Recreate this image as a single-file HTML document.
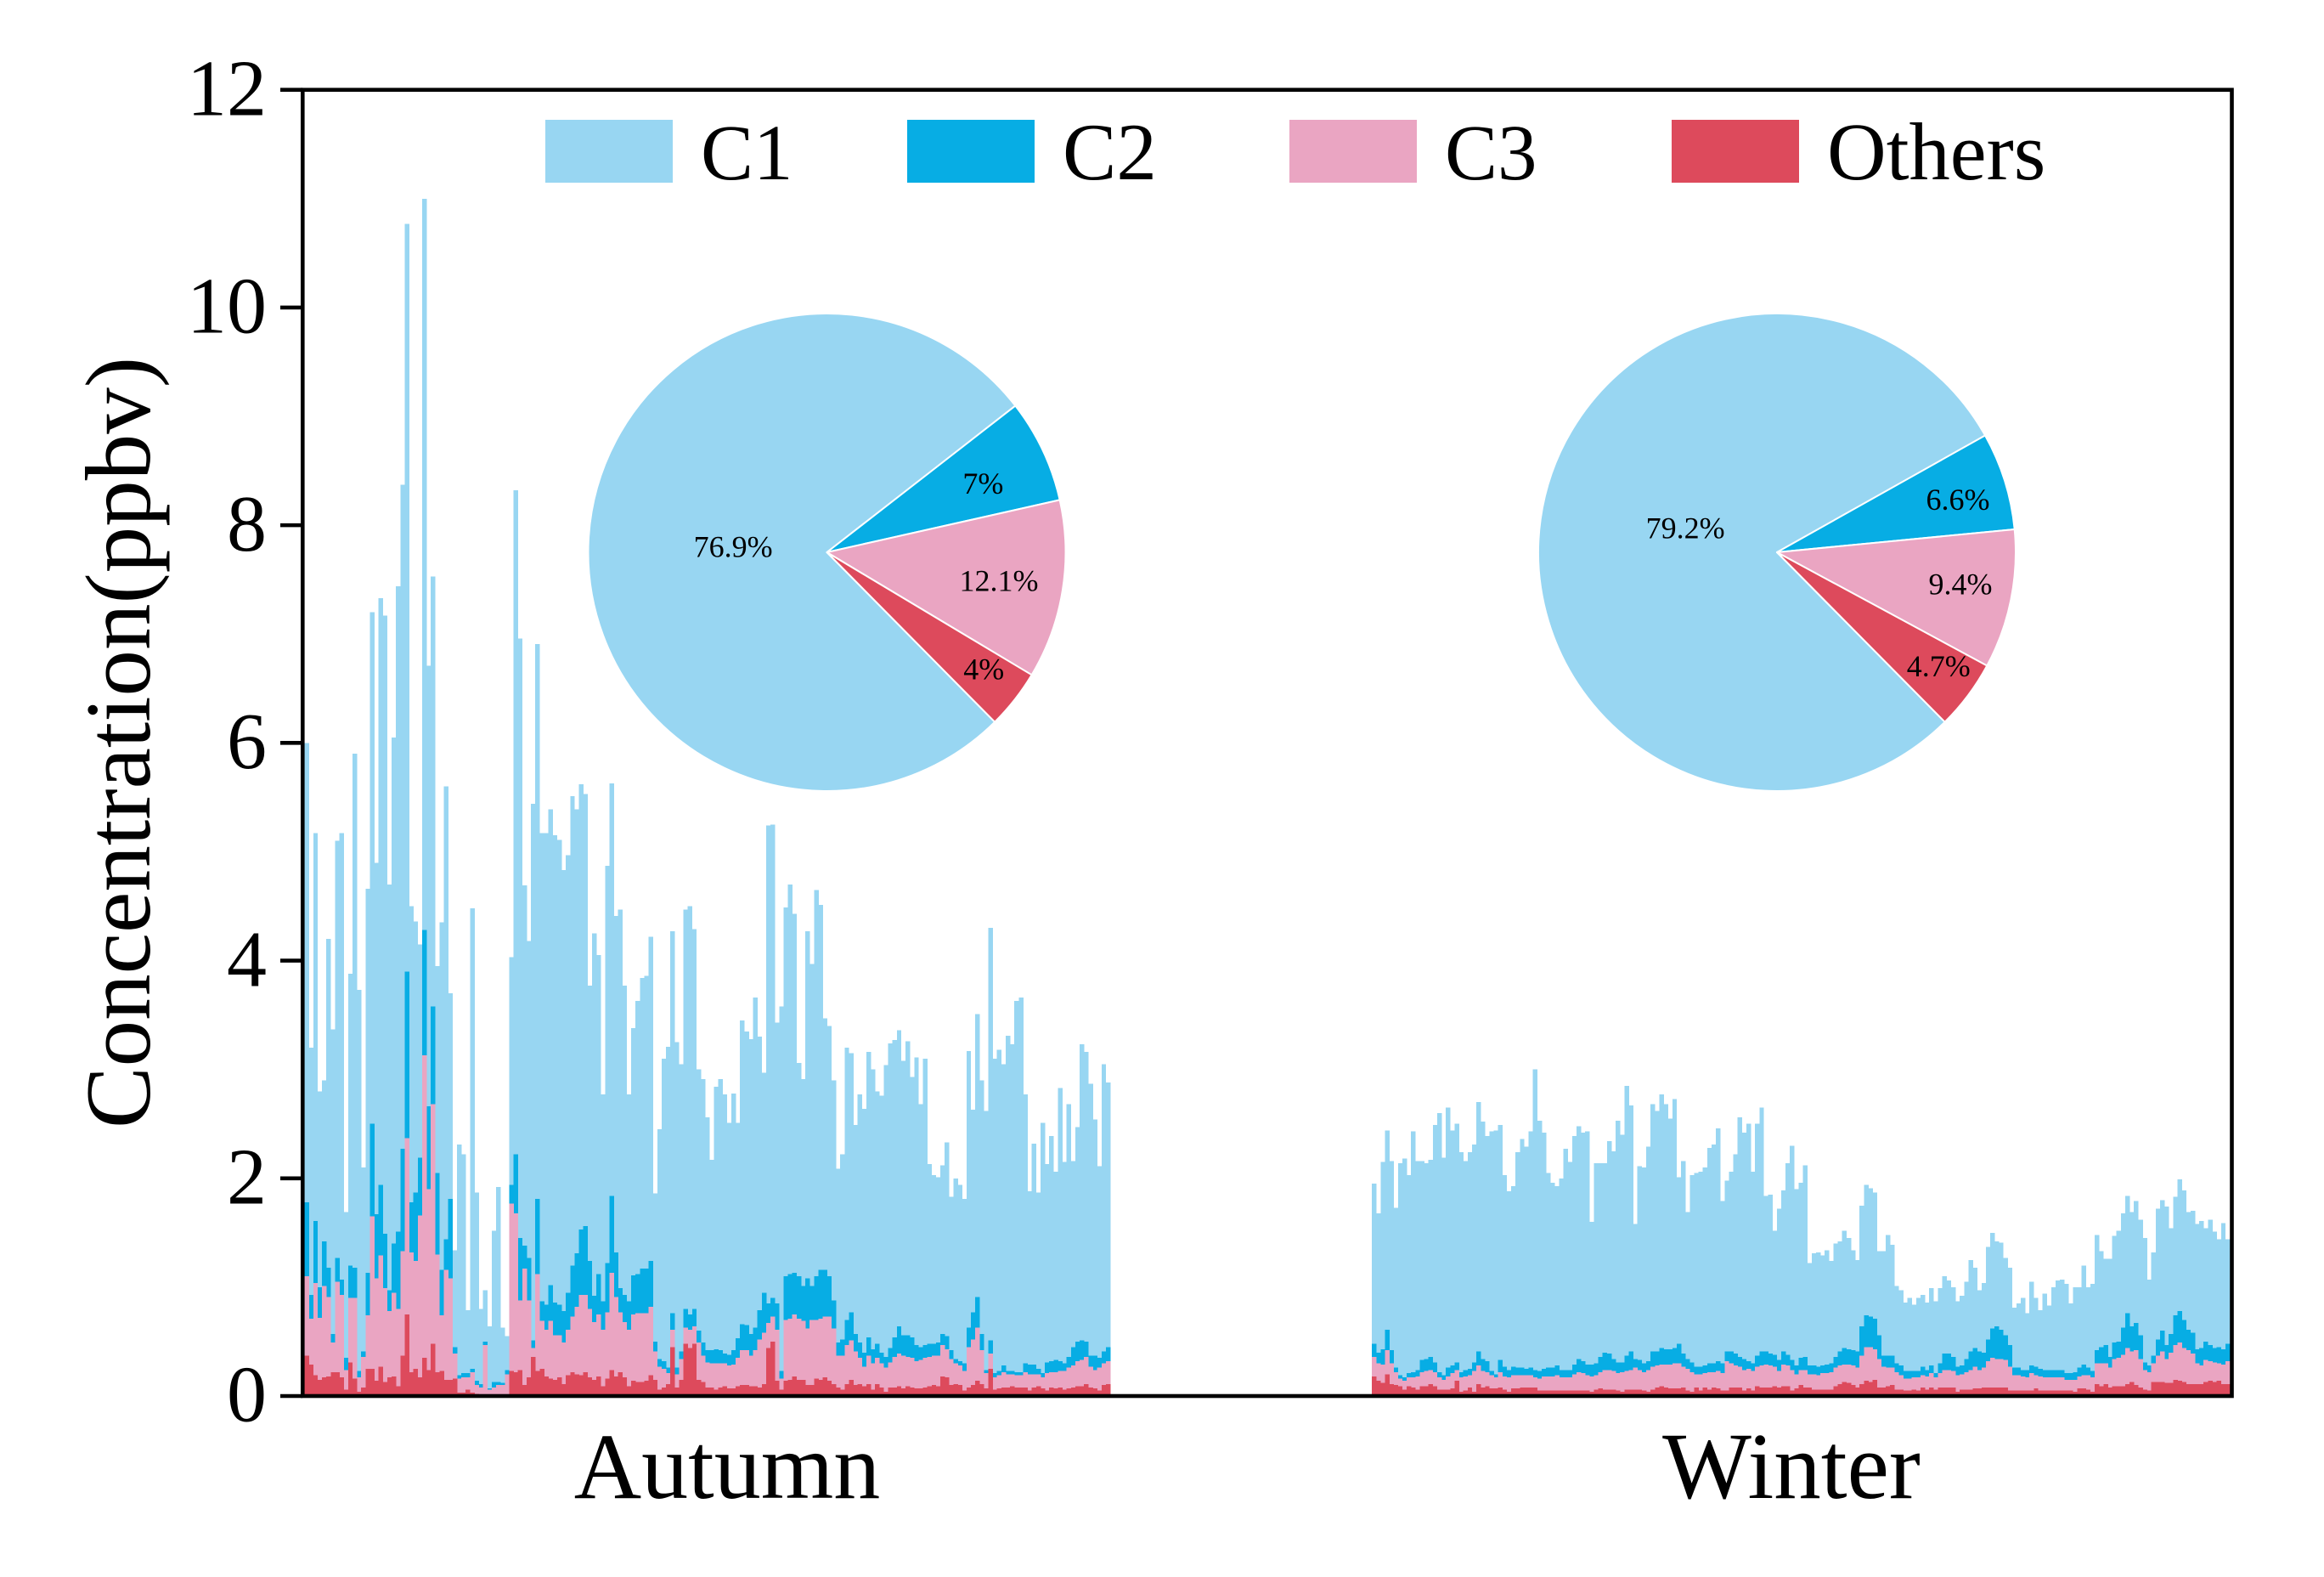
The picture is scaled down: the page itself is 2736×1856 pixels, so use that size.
<!DOCTYPE html>
<html lang="en">
<head>
<meta charset="utf-8">
<title>Concentration by season</title>
<style>
html,body{margin:0;padding:0;background:#fff;}
svg{display:block;}
text{font-family:"Liberation Serif","Times New Roman",serif;fill:#000;}
</style>
</head>
<body>
<svg id="chart" xmlns="http://www.w3.org/2000/svg" width="2736" height="1856" viewBox="0 0 2736 1856">
  <rect x="0" y="0" width="2736" height="1856" fill="#ffffff"/>
  <g id="bars"></g>
  <g id="pies"></g>
  <g id="axes"></g>
  <g>
    <g>
      <rect x="642" y="141" width="150" height="74" fill="#98d6f2"/>
      <text x="825" y="211" font-size="93">C1</text>
    </g>
    <g>
      <rect x="1068" y="141" width="150" height="74" fill="#07ade4"/>
      <text x="1251" y="211" font-size="95">C2</text>
    </g>
    <g>
      <rect x="1518" y="141" width="150" height="74" fill="#eaa5c2"/>
      <text x="1701" y="211" font-size="93">C3</text>
    </g>
    <g>
      <rect x="1968" y="141" width="150" height="74" fill="#dd4a5c"/>
      <text x="2151" y="211" font-size="96.5">Others</text>
    </g>
  </g>
  <text transform="translate(176,874) rotate(-90)" text-anchor="middle" font-size="109">Concentration(ppbv)</text>
  <text x="856" y="1763" text-anchor="middle" font-size="110">Autumn</text>
  <text x="2109" y="1763" text-anchor="middle" font-size="111">Winter</text>
</svg>
<script>
// Tick labels
const yTicks = [0, 2, 4, 6, 8, 10, 12];

// Autumn stack levels (ppbv): total height, then top of C2, top of C3, top of Others
const autumnTotal = [6.0,3.2,5.17,2.8,2.9,4.2,3.37,5.1,5.17,1.69,3.88,5.9,3.73,2.1,4.66,7.2,4.9,7.33,7.17,4.7,6.05,7.44,8.37,10.77,4.5,4.36,4.15,11.0,6.71,7.53,3.95,4.35,5.6,3.7,1.34,2.31,2.22,.79,4.48,1.87,.8,.97,.64,1.52,1.92,.63,.55,4.03,8.32,6.96,4.69,4.18,5.44,6.91,5.17,5.17,5.39,5.15,5.11,4.83,4.97,5.51,5.39,5.62,5.53,3.77,4.25,4.05,2.77,4.87,5.63,4.41,4.47,3.77,2.77,3.38,3.63,3.84,3.86,4.22,1.86,2.45,3.1,3.21,4.27,3.25,3.05,4.47,4.5,4.29,3.0,2.91,2.56,2.17,2.84,2.91,2.77,2.51,2.78,2.51,3.45,3.35,3.28,3.66,3.3,2.97,5.24,5.25,3.43,3.58,4.49,4.7,4.43,3.06,2.91,4.27,3.97,4.65,4.51,3.47,3.4,2.9,2.09,2.22,3.2,3.15,2.49,2.77,2.64,3.16,3.0,2.8,2.76,3.04,3.24,3.27,3.36,3.08,3.26,2.93,3.11,2.68,3.1,2.13,2.03,2.01,2.12,2.33,1.83,2.0,1.94,1.81,3.17,2.63,3.51,2.9,2.62,4.3,3.1,3.18,3.05,3.31,3.23,3.63,3.66,2.77,1.88,2.32,1.87,2.51,2.13,2.39,2.06,2.83,2.15,2.68,2.16,2.47,3.23,3.16,2.87,2.54,2.11,3.05,2.88];
const autumnC2Top = [1.78,.93,1.61,1.0,1.42,1.18,.57,1.27,1.07,.35,1.2,1.18,.23,.41,1.13,2.5,1.67,1.94,1.49,.97,1.4,1.51,2.27,3.9,1.78,1.87,2.19,4.28,2.66,3.58,2.05,1.16,1.44,1.81,.45,.19,.21,.21,.25,.14,.11,.5,.07,.13,.13,.12,.24,1.94,2.22,1.45,1.38,1.27,.51,1.81,.87,.84,1.02,.86,.84,.78,.95,1.2,1.31,1.53,1.56,1.24,.92,1.12,.87,1.22,1.84,1.32,.99,.93,.87,1.11,1.12,1.17,1.17,1.24,.5,.34,.32,.26,.76,.26,.41,.8,.75,.8,.6,.49,.42,.42,.43,.42,.39,.38,.42,.53,.66,.65,.57,.63,.79,.95,.85,.9,.85,.23,1.1,1.12,1.13,1.1,1.01,1.08,1.01,1.1,1.16,1.16,1.1,.88,.49,.52,.7,.77,.57,.49,.4,.54,.43,.48,.4,.36,.44,.54,.64,.56,.56,.54,.47,.45,.47,.48,.48,.49,.57,.55,.42,.34,.32,.3,.63,.77,.91,.57,.24,.51,.21,.23,.28,.23,.23,.22,.22,.3,.29,.29,.25,.21,.31,.32,.33,.32,.3,.36,.45,.5,.51,.5,.37,.37,.35,.41,.45];
const autumnC3Top = [1.1,.71,1.04,.72,1.01,.91,.49,1.05,.93,.24,.9,.9,.17,.36,.74,1.65,1.08,1.29,.99,.78,.95,.8,1.33,2.37,1.32,1.24,1.66,3.13,1.9,2.68,1.3,.74,1.16,1.08,.39,.16,.17,.17,.22,.1,.08,.47,.06,.08,.1,.1,.2,1.77,1.68,.88,1.17,.88,.44,1.12,.69,.61,.69,.56,.56,.49,.61,.73,.82,.93,.93,.8,.68,.75,.61,.77,1.13,.91,.77,.68,.61,.75,.76,.76,.76,.82,.41,.27,.25,.21,.61,.2,.34,.63,.61,.64,.49,.37,.31,.3,.3,.3,.3,.28,.29,.35,.42,.42,.37,.42,.52,.58,.67,.73,.61,.16,.7,.71,.75,.71,.69,.62,.7,.7,.71,.73,.73,.62,.37,.37,.47,.51,.41,.35,.27,.37,.3,.35,.3,.26,.31,.36,.39,.37,.36,.35,.32,.33,.35,.36,.37,.37,.47,.43,.34,.3,.28,.23,.45,.52,.63,.42,.21,.39,.17,.19,.22,.2,.2,.19,.19,.22,.2,.2,.2,.17,.21,.22,.22,.23,.23,.26,.28,.32,.33,.36,.27,.24,.26,.3,.32];
const autumnOthersTop = [.37,.29,.19,.15,.17,.18,.22,.22,.17,.06,.31,.16,.04,.08,.25,.25,.14,.27,.13,.17,.18,.09,.37,.75,.22,.25,.17,.35,.24,.48,.22,.23,.15,.15,.16,.03,.03,.06,.03,.02,.01,.01,.01,.01,.01,.01,.01,.23,.22,.24,.1,.17,.36,.23,.25,.18,.16,.15,.17,.11,.19,.22,.2,.19,.22,.17,.15,.18,.09,.16,.24,.18,.22,.17,.09,.14,.13,.13,.14,.19,.15,.06,.08,.11,.45,.08,.15,.48,.44,.48,.15,.13,.08,.08,.06,.08,.09,.07,.07,.09,.1,.1,.09,.09,.08,.11,.44,.5,.14,.06,.14,.15,.18,.15,.15,.1,.1,.16,.15,.17,.14,.11,.08,.06,.11,.15,.1,.11,.09,.11,.06,.11,.08,.04,.08,.08,.09,.07,.09,.08,.07,.07,.08,.09,.1,.09,.18,.17,.1,.11,.1,.05,.08,.1,.14,.11,.07,.25,.06,.07,.08,.08,.09,.08,.08,.08,.05,.08,.09,.07,.05,.08,.07,.08,.06,.07,.08,.09,.09,.11,.08,.07,.05,.1,.11];

// Winter stack levels (ppbv)
const winterTotal = [1.95,1.68,2.15,2.44,2.16,1.73,2.14,2.18,2.03,2.43,2.16,2.16,2.14,2.17,2.49,2.6,2.19,2.65,2.44,2.5,2.24,2.16,2.24,2.31,2.7,2.52,2.39,2.43,2.44,2.49,2.03,1.88,1.93,2.24,2.36,2.29,2.43,3.0,2.53,2.42,2.05,1.96,1.93,2.0,2.27,2.15,2.39,2.48,2.42,2.43,1.6,2.14,2.14,2.14,2.34,2.25,2.53,2.4,2.85,2.67,1.58,2.11,2.1,2.29,2.68,2.62,2.77,2.68,2.55,2.73,2.01,2.16,1.69,2.03,2.05,2.06,2.1,2.28,2.31,2.46,1.79,1.98,2.06,2.22,2.56,2.42,2.5,2.06,2.5,2.65,1.84,1.85,1.52,1.72,1.89,2.14,2.3,1.9,1.96,2.12,1.22,1.31,1.32,1.29,1.34,1.24,1.4,1.42,1.52,1.45,1.34,1.25,1.75,1.94,1.91,1.87,1.33,1.33,1.48,1.39,1.01,.97,.86,.9,.84,.9,.93,.86,.99,.87,.99,1.1,1.06,1.0,.87,.92,1.05,1.25,1.18,.97,1.04,1.37,1.5,1.42,1.41,1.27,1.18,.81,.85,.9,.76,1.05,.9,.79,.94,.83,1.0,1.06,1.07,1.03,.85,1.0,1.0,1.2,1.0,1.03,1.48,1.33,1.26,1.26,1.47,1.52,1.68,1.84,1.69,1.79,1.62,1.45,1.07,1.32,1.72,1.8,1.74,1.54,1.83,1.99,1.89,1.69,1.7,1.58,1.61,1.54,1.62,1.51,1.44,1.59,1.44];
const winterC2Top = [.48,.4,.43,.61,.42,.26,.19,.17,.21,.22,.24,.33,.34,.36,.31,.22,.19,.26,.28,.31,.22,.24,.25,.31,.41,.34,.32,.23,.2,.33,.27,.24,.27,.26,.26,.25,.26,.24,.23,.25,.26,.26,.28,.24,.24,.24,.29,.34,.32,.29,.29,.3,.36,.4,.39,.34,.31,.31,.37,.41,.34,.33,.3,.32,.41,.41,.44,.43,.43,.44,.48,.39,.34,.31,.27,.27,.28,.3,.3,.32,.3,.41,.41,.39,.36,.34,.32,.3,.37,.41,.41,.39,.38,.33,.41,.38,.33,.28,.35,.36,.28,.28,.27,.28,.29,.3,.36,.41,.44,.43,.42,.41,.64,.74,.73,.71,.56,.37,.37,.37,.3,.28,.23,.23,.23,.23,.27,.24,.28,.21,.3,.39,.39,.36,.27,.28,.34,.41,.44,.41,.4,.52,.62,.64,.61,.56,.47,.26,.26,.24,.24,.28,.27,.25,.24,.24,.24,.24,.24,.21,.21,.22,.26,.29,.26,.23,.42,.45,.47,.36,.49,.5,.63,.76,.64,.67,.56,.31,.28,.37,.52,.6,.47,.57,.74,.78,.7,.61,.58,.43,.44,.5,.47,.44,.45,.43,.48];
const winterC3Top = [.36,.3,.29,.42,.3,.22,.16,.14,.17,.17,.18,.22,.23,.24,.22,.17,.15,.18,.21,.24,.17,.18,.19,.23,.28,.23,.22,.19,.17,.22,.18,.17,.19,.19,.19,.19,.19,.17,.16,.18,.18,.18,.19,.17,.17,.17,.2,.22,.21,.19,.18,.19,.22,.24,.24,.23,.21,.22,.23,.24,.26,.24,.22,.24,.27,.28,.29,.29,.29,.3,.3,.27,.25,.22,.2,.2,.21,.22,.22,.23,.21,.32,.3,.28,.27,.24,.25,.23,.27,.28,.29,.28,.27,.23,.29,.28,.24,.2,.24,.24,.2,.2,.19,.21,.21,.22,.26,.28,.29,.29,.28,.26,.37,.45,.45,.43,.34,.27,.26,.26,.22,.19,.16,.16,.17,.17,.19,.18,.21,.17,.21,.24,.24,.23,.19,.2,.22,.24,.27,.24,.26,.32,.35,.34,.34,.33,.27,.19,.19,.18,.17,.21,.19,.18,.17,.17,.17,.17,.17,.15,.15,.15,.18,.19,.19,.17,.3,.3,.3,.26,.34,.35,.38,.44,.41,.42,.34,.24,.22,.3,.37,.41,.34,.4,.47,.49,.44,.42,.39,.3,.28,.33,.32,.31,.3,.29,.32];
const winterOthersTop = [.18,.14,.12,.2,.11,.1,.09,.06,.09,.08,.06,.09,.09,.11,.09,.06,.06,.06,.07,.14,.04,.05,.08,.04,.11,.08,.09,.07,.07,.08,.06,.04,.07,.07,.08,.08,.08,.08,.05,.05,.05,.05,.05,.05,.05,.05,.05,.05,.05,.05,.04,.06,.07,.06,.06,.06,.05,.04,.06,.06,.06,.06,.05,.04,.06,.08,.09,.08,.07,.07,.07,.08,.05,.04,.08,.05,.08,.06,.08,.07,.05,.05,.08,.08,.08,.05,.07,.05,.09,.08,.08,.08,.09,.08,.09,.09,.05,.07,.1,.08,.08,.06,.06,.06,.06,.06,.09,.11,.13,.12,.1,.08,.11,.14,.13,.15,.08,.08,.09,.1,.06,.06,.05,.05,.06,.05,.08,.06,.08,.06,.08,.08,.08,.08,.04,.06,.06,.06,.07,.07,.08,.08,.08,.08,.08,.08,.05,.05,.05,.05,.05,.05,.07,.05,.05,.05,.05,.05,.05,.05,.05,.04,.07,.07,.06,.04,.11,.09,.11,.08,.09,.09,.09,.11,.13,.1,.08,.06,.05,.13,.13,.13,.12,.12,.15,.14,.13,.11,.11,.11,.11,.13,.14,.13,.14,.11,.11];

// Pie shares (%)
const autumnShares = [76.9, 7, 12.1, 4];
const winterShares = [79.2, 6.6, 9.4, 4.7];
const seriesNames = ['c1', 'c2', 'c3', 'others'];

const NS = 'http://www.w3.org/2000/svg';
const COLORS = {c1:'#98d6f2', c2:'#07ade4', c3:'#eaa5c2', others:'#dd4a5c'};
const Y0 = 1643, Y12 = 105.7;
function yScale(v){ return Y0 + (Y12 - Y0) * v / 12; }
function xScale(i, n, left, right){ return left + (right - left) * i / n; }

function drawSeason(season, left, right, layers){
  const g = document.getElementById('bars');
  layers.forEach(function(layer){
    const n = layer.values.length;
    const group = document.createElementNS(NS, 'g');
    
    
    group.setAttribute('fill', layer.color);
    group.setAttribute('shape-rendering', 'crispEdges');
    layer.values.forEach(function(v, i){
      const x0 = xScale(i, n, left, right);
      const x1 = xScale(i + 1, n, left, right);
      const y = yScale(v);
      const r = document.createElementNS(NS, 'rect');
      
      
      r.setAttribute('x', x0.toFixed(2));
      r.setAttribute('y', y.toFixed(2));
      r.setAttribute('width', (x1 - x0 + 0.3).toFixed(2));
      r.setAttribute('height', (Y0 - y).toFixed(2));
      group.appendChild(r);
    });
    g.appendChild(group);
  });
}

drawSeason('autumn', 358.5, 1307, [
  {name:'c1', color:COLORS.c1, values:autumnTotal},
  {name:'c2', color:COLORS.c2, values:autumnC2Top},
  {name:'c3', color:COLORS.c3, values:autumnC3Top},
  {name:'others', color:COLORS.others, values:autumnOthersTop}
]);
drawSeason('winter', 1615, 2625, [
  {name:'c1', color:COLORS.c1, values:winterTotal},
  {name:'c2', color:COLORS.c2, values:winterC2Top},
  {name:'c3', color:COLORS.c3, values:winterC3Top},
  {name:'others', color:COLORS.others, values:winterOthersTop}
]);

function drawPie(season, shares, cx, cy, R, labelFactors, labelNudgeX, labelNudgeY){
  const parent = document.getElementById('pies');
  const g = document.createElementNS(NS, 'g');
  
  
  parent.appendChild(g);
  const total = shares.reduce(function(a, b){ return a + b; }, 0);
  let angle = -45.3;
  shares.forEach(function(share, i){
    const sweep = share / total * 360;
    const a0 = angle * Math.PI / 180;
    const a1 = (angle - sweep) * Math.PI / 180;
    const mid = (angle - sweep / 2) * Math.PI / 180;
    const x0 = cx + R * Math.cos(a0), y0 = cy - R * Math.sin(a0);
    const x1 = cx + R * Math.cos(a1), y1 = cy - R * Math.sin(a1);
    const large = sweep > 180 ? 1 : 0;
    const p = document.createElementNS(NS, 'path');
    
    
    p.setAttribute('d', 'M' + cx + ' ' + cy + 'L' + x0.toFixed(2) + ' ' + y0.toFixed(2) + 'A' + R + ' ' + R + ' 0 ' + large + ' 1 ' + x1.toFixed(2) + ' ' + y1.toFixed(2) + 'Z');
    p.setAttribute('fill', COLORS[seriesNames[i]]);
    p.setAttribute('stroke', '#ffffff');
    p.setAttribute('stroke-width', '2');
    p.setAttribute('stroke-linejoin', 'round');
    g.appendChild(p);
    const t = document.createElementNS(NS, 'text');
    
    
    t.setAttribute('x', (cx + labelFactors[i] * R * Math.cos(mid) + labelNudgeX[i]).toFixed(1));
    t.setAttribute('y', (cy - labelFactors[i] * R * Math.sin(mid) + 11 + labelNudgeY[i]).toFixed(1));
    t.setAttribute('text-anchor', 'middle');
    t.setAttribute('font-size', '36');
    t.textContent = share + '%';
    g.appendChild(t);
    angle -= sweep;
  });
}
drawPie('autumn', autumnShares, 973.5, 650, 281, [0.39, 0.71, 0.73, 0.82], [-1, 3.5, 0, 3.5], [1.5, 5, 2, -3.5]);
drawPie('winter', winterShares, 2092, 650, 281, [0.395, 0.787, 0.777, 0.83], [2, 2, 2, 3.5], [-12, 5, -5, -5]);

(function drawAxes(){
  const g = document.getElementById('axes');
  const L = 356.3, R = 2627.5;
  const frame = document.createElementNS(NS, 'rect');
  
  
  frame.setAttribute('x', L);
  frame.setAttribute('y', Y12);
  frame.setAttribute('width', R - L);
  frame.setAttribute('height', Y0 - Y12);
  frame.setAttribute('fill', 'none');
  frame.setAttribute('stroke', '#000');
  frame.setAttribute('stroke-width', '4.6');
  g.appendChild(frame);
  yTicks.forEach(function(v){
    const y = yScale(v);
    const tick = document.createElementNS(NS, 'line');
    
    
    tick.setAttribute('x1', 330);
    tick.setAttribute('x2', L);
    tick.setAttribute('y1', y);
    tick.setAttribute('y2', y);
    tick.setAttribute('stroke', '#000');
    tick.setAttribute('stroke-width', '4.6');
    g.appendChild(tick);
    const label = document.createElementNS(NS, 'text');
    
    
    label.setAttribute('x', 314);
    label.setAttribute('y', y + 29.7);
    label.setAttribute('text-anchor', 'end');
    label.setAttribute('font-size', '94');
    label.textContent = v;
    g.appendChild(label);
  });
})();
</script>
</body>
</html>
